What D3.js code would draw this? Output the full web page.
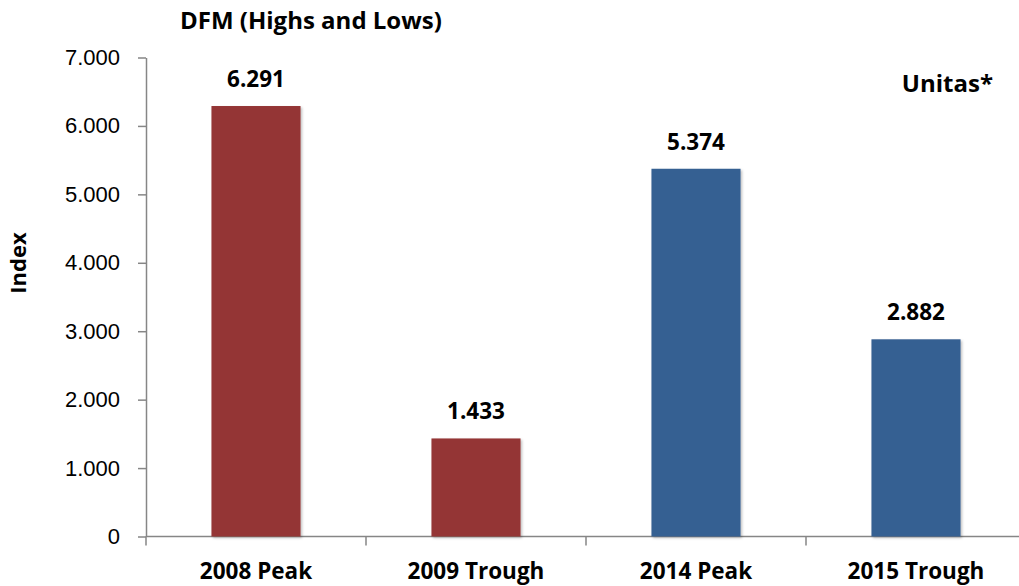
<!DOCTYPE html>
<html>
<head>
<meta charset="utf-8">
<script src="https://cdn.jsdelivr.net/npm/d3@7"></script>
<style>
  body { margin: 0; background: #fff; }
  svg { display: block; font-family: Lato, "Open Sans", sans-serif; }
  .bold { font-family: "Open Sans", Lato, sans-serif; font-weight: bold; }
</style>
</head>
<body>
<div id="chart"></div>
<script>
const categories = ["2008 Peak", "2009 Trough", "2014 Peak", "2015 Trough"];
const values = [6291, 1433, 5374, 2882];
const barColors = ["#943634", "#943634", "#366092", "#366092"];
const yTicks = [0, 1000, 2000, 3000, 4000, 5000, 6000, 7000];

const W = 1019, H = 586;
const margin = { top: 57.5, right: -7, bottom: 49.5, left: 146 };
const width = W - margin.left - margin.right;
const height = H - margin.top - margin.bottom;

const locale = d3.formatLocale({ decimal: ",", thousands: ".", grouping: [3], currency: ["", ""] });
const fmt = locale.format(",");

const svg = d3.select("#chart").append("svg")
    .attr("width", W)
    .attr("height", H);

// soft shadow like the spreadsheet bars
const defs = svg.append("defs");
const shadow = defs.append("filter").attr("id", "shadow")
    .attr("x", "-10%").attr("y", "-10%").attr("width", "130%").attr("height", "130%");
shadow.append("feDropShadow")
    .attr("dx", 1.5).attr("dy", 1.5).attr("stdDeviation", 1.2)
    .attr("flood-color", "#000").attr("flood-opacity", 0.25);

const g = svg.append("g")
    .attr("transform", `translate(${margin.left}, ${margin.top})`);

const xScale = d3.scaleBand()
    .domain(categories)
    .range([0, width])
    .padding(0);

const yScale = d3.scaleLinear()
    .domain([0, 7000])
    .range([height, 0]);

const barW = xScale.bandwidth() * 0.405;

// y axis
const yAxis = g.append("g")
    .call(d3.axisLeft(yScale).tickValues(yTicks).tickFormat(fmt).tickSize(8).tickSizeOuter(0).tickPadding(18));
yAxis.select(".domain").attr("stroke", "#868686").attr("stroke-width", 1.5);
yAxis.selectAll(".tick line").attr("stroke", "#868686").attr("stroke-width", 1.5);
yAxis.selectAll(".tick text")
    .style("font-size", "22px")
    .attr("fill", "#000");

// x axis with boundary ticks
const xAxis = g.append("g")
    .attr("transform", `translate(0, ${height})`);
xAxis.append("line")
    .attr("x1", 0).attr("x2", width)
    .attr("stroke", "#868686").attr("stroke-width", 1.5);
xAxis.selectAll(".sep")
    .data(categories)
    .join("line")
    .attr("class", "sep")
    .attr("x1", d => xScale(d)).attr("x2", d => xScale(d))
    .attr("y1", 0).attr("y2", 9)
    .attr("stroke", "#868686").attr("stroke-width", 1.5);
xAxis.selectAll(".cat")
    .data(categories)
    .join("text")
    .attr("class", "cat bold")
    .attr("x", d => xScale(d) + xScale.bandwidth() / 2)
    .attr("y", 42.5)
    .attr("text-anchor", "middle")
    .style("font-size", "22.5px")
    .text(d => d);

// bars
const data = categories.map((c, i) => ({ cat: c, val: values[i], color: barColors[i] }));

g.selectAll(".bar")
    .data(data)
    .join("rect")
    .attr("class", "bar")
    .attr("x", d => xScale(d.cat) + xScale.bandwidth() / 2 - barW / 2)
    .attr("y", d => yScale(d.val))
    .attr("width", barW)
    .attr("height", d => height - yScale(d.val))
    .attr("fill", d => d.color)
    .style("filter", "url(#shadow)");

// value labels
g.selectAll(".val")
    .data(data)
    .join("text")
    .attr("class", "val bold")
    .attr("x", d => xScale(d.cat) + xScale.bandwidth() / 2)
    .attr("y", d => yScale(d.val) - 19)
    .attr("text-anchor", "middle")
    .style("font-size", "22.5px")
    .text(d => fmt(d.val));

// title
svg.append("text")
    .attr("class", "bold")
    .attr("x", 180)
    .attr("y", 29)
    .style("font-size", "24px")
    .text("DFM (Highs and Lows)");

// series note
svg.append("text")
    .attr("class", "bold")
    .attr("x", 993)
    .attr("y", 92)
    .attr("text-anchor", "end")
    .style("font-size", "24px")
    .text("Unitas*");

// y axis label
svg.append("text")
    .attr("class", "bold")
    .attr("transform", "rotate(-90)")
    .attr("x", -263)
    .attr("y", 26)
    .attr("text-anchor", "middle")
    .style("font-size", "22px")
    .text("Index");
</script>
</body>
</html>
